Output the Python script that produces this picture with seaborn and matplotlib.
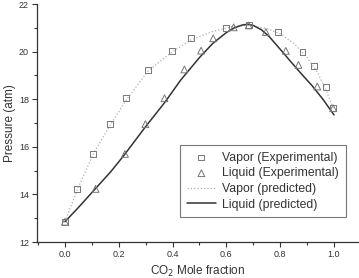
import matplotlib
matplotlib.use("Agg")
import matplotlib.pyplot as plt
from matplotlib.ticker import MultipleLocator
import seaborn as sns

# experimental points
vap_x = [0.0, 0.046, 0.105, 0.169, 0.226, 0.309, 0.399, 0.469, 0.599, 0.683, 0.793, 0.883, 0.926, 0.969, 0.997]
vap_p = [12.85, 14.23, 15.68, 16.95, 18.05, 19.23, 20.04, 20.57, 21.0, 21.1, 20.81, 20.0, 19.41, 18.5, 17.62]
liq_x = [0.0, 0.114, 0.223, 0.299, 0.370, 0.444, 0.506, 0.551, 0.627, 0.683, 0.747, 0.821, 0.868, 0.938, 0.997]
liq_p = [12.85, 14.23, 15.70, 16.95, 18.04, 19.25, 20.04, 20.56, 21.02, 21.1, 20.82, 20.03, 19.44, 18.53, 17.62]

# predicted curves
vpred_x = [0.0, 0.046, 0.105, 0.17, 0.23, 0.31, 0.40, 0.47, 0.55, 0.62, 0.68, 0.75, 0.80, 0.85, 0.90, 0.94, 0.97, 1.0]
vpred_p = [12.85, 14.2, 15.7, 16.95, 18.0, 19.2, 20.0, 20.5, 20.85, 21.05, 21.1, 20.97, 20.75, 20.35, 19.75, 19.1, 18.4, 17.55]
lpred_x = [0.0, 0.05, 0.11, 0.17, 0.22, 0.30, 0.37, 0.43, 0.50, 0.55, 0.60, 0.63, 0.66, 0.68, 0.70, 0.73, 0.76, 0.80, 0.84, 0.88, 0.92, 0.96, 1.0]
lpred_p = [12.85, 13.45, 14.2, 14.95, 15.65, 16.85, 17.85, 18.8, 19.75, 20.35, 20.8, 21.0, 21.12, 21.15, 21.1, 20.92, 20.62, 20.1, 19.57, 19.05, 18.55, 17.98, 17.34]

sns.set_style("ticks")
plt.rcParams["font.family"] = ["Liberation Sans", "DejaVu Sans"]
txt = "#333333"

fig = plt.figure(figsize=(3.59, 2.78), dpi=100)
ax = fig.add_axes([36.7 / 359, 36 / 278, 1 - 36.7 / 359, 238 / 278])

sns.lineplot(x=vpred_x, y=vpred_p, ax=ax, color="#b0b0b0", linestyle=":", linewidth=0.9,
             sort=False, label="Vapor (predicted)")
sns.lineplot(x=lpred_x, y=lpred_p, ax=ax, color="#333333", linestyle="-", linewidth=1.1,
             sort=False, label="Liquid (predicted)")
sns.scatterplot(x=vap_x, y=vap_p, ax=ax, marker="s", s=18, facecolor="none",
                edgecolor="#777777", linewidth=0.7, label="Vapor (Experimental)", zorder=3)
sns.scatterplot(x=liq_x, y=liq_p, ax=ax, marker="^", s=24, facecolor="none",
                edgecolor="#777777", linewidth=0.7, label="Liquid (Experimental)", zorder=3)

ax.set_xlim(-0.105, 1.093)
ax.set_ylim(12, 22)
ax.xaxis.set_major_locator(MultipleLocator(0.2))
ax.xaxis.set_minor_locator(MultipleLocator(0.1))
ax.yaxis.set_major_locator(MultipleLocator(2))
ax.yaxis.set_minor_locator(MultipleLocator(1))
ax.tick_params(which="major", length=3.5, width=0.8, color="#333333", labelsize=6.5,
               labelcolor=txt, pad=2)
ax.tick_params(which="minor", length=2.2, width=0.8, color="#333333")
ax.set_xticks([0.0, 0.2, 0.4, 0.6, 0.8, 1.0])
ax.set_xticklabels(["0.0", "0.2", "0.4", "0.6", "0.8", "1.0"])
ax.set_xlabel("CO$_2$ Mole fraction", fontsize=8.5, color=txt, labelpad=4)
ax.set_ylabel("Pressure (atm)", fontsize=8.5, color=txt, labelpad=2)
for side in ["top", "right"]:
    ax.spines[side].set_visible(False)
for side in ["left", "bottom"]:
    ax.spines[side].set_color("#333333")
    ax.spines[side].set_linewidth(0.9)

h, l = ax.get_legend_handles_labels()
order = [2, 3, 0, 1]
leg = ax.legend([h[i] for i in order], [l[i] for i in order], loc="upper left",
                bbox_to_anchor=(180 / 359, 1 - 145 / 278), bbox_transform=fig.transFigure,
                fontsize=8.8, frameon=True, fancybox=False, borderpad=0.55, labelspacing=0.3,
                handlelength=2.4, handletextpad=0.5, borderaxespad=0)
leg.get_frame().set_edgecolor("#555555")
leg.get_frame().set_linewidth(0.8)
for t in leg.get_texts():
    t.set_color(txt)

fig.savefig("out.png", dpi=100)
